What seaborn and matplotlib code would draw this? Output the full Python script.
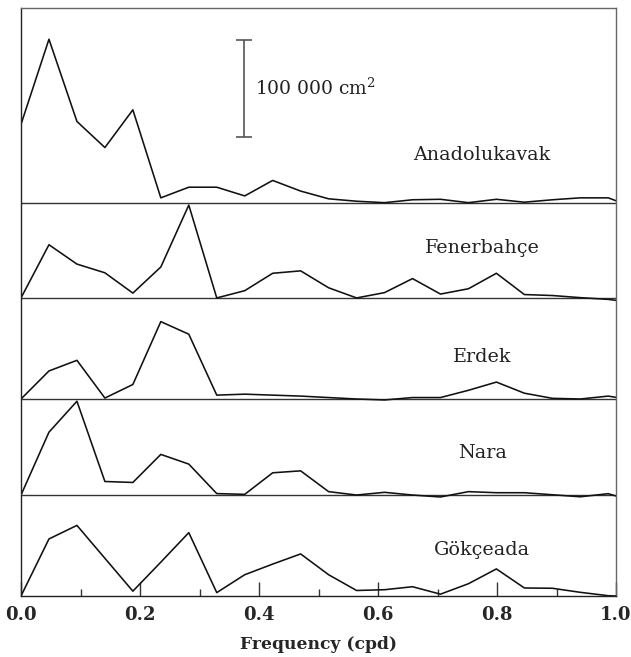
import numpy as np
import pandas as pd
import matplotlib
matplotlib.use("Agg")
import matplotlib.pyplot as plt
import seaborn as sns

# ---- data (spectral amplitude, 10^3 cm^2) ----
freq = [0.000, 0.047, 0.094, 0.141, 0.188, 0.235, 0.282, 0.329, 0.376, 0.423,
        0.470, 0.517, 0.564, 0.611, 0.658, 0.705, 0.752, 0.799, 0.846, 0.893,
        0.940, 0.987, 1.000]
stations = ["Anadolukavak", "Fenerbahçe", "Erdek", "Nara", "Gökçeada"]
anadolukavak = [81, 169, 84, 57, 96, 5, 16, 16, 7, 23, 12, 4, 1.5, 0, 3, 3.5, 0, 3.5, 0.5, 3, 5, 5, 2]
fenerbahce = [0, 55, 35, 26, 5, 32, 96, 0, 7.5, 25.5, 28, 10.5, 0, 5.5, 20, 4, 9.5, 25.5, 3.5, 2.5, 0.3, -1.5, -2.5]
erdek = [0, 29, 40, 1, 15, 80, 67, 4, 5, 4, 3, 1.5, 0, -1, 1.5, 1.5, 9, 17.5, 6, 0.7, 0, 3, 1.7]
nara = [0, 65, 97, 14, 13, 42, 32, 1.5, 0.7, 23, 25, 3.5, 0, 2.8, 0, -2, 3.5, 2.4, 2.4, 0.3, -1.8, 1.4, -1]
gokceada = [0, 59, 73, 39, 5, 35, 65.5, 3.5, 22, 33, 43.5, 22, 5.7, 6.5, 9.6, 1.9, 12.7, 28, 8.3, 8, 3.8, 0.3, 0]
series = [anadolukavak, fenerbahce, erdek, nara, gokceada]
scale_value = 100  # 100 000 cm^2
x_ticks = [0.0, 0.2, 0.4, 0.6, 0.8, 1.0]
x_label = "Frequency (cpd)"

# ---- layout ----
baselines = [406.7, 308.2, 203.7, 104.4, 0.0]
label_y = [456, 360, 247, 148, 47.6]

sns.set_theme(style="white")
plt.rcParams["font.family"] = ["DejaVu Serif"]
plt.rcParams["mathtext.fontset"] = "dejavuserif"

fig = plt.figure(figsize=(6.31, 6.57), dpi=100)
ax = fig.add_axes([21 / 631, 1 - 596 / 657, 595 / 631, 588 / 657])

rows = []
for name, vals, base in zip(stations, series, baselines):
    for f, v in zip(freq, vals):
        rows.append({"station": name, "freq": f, "y": v + base})
df = pd.DataFrame(rows)

for name, base in zip(stations, baselines):
    sub = df[df["station"] == name]
    sns.lineplot(data=sub, x="freq", y="y", ax=ax, color="#111111", lw=1.15,
                 estimator=None, sort=False, legend=False)
    if base > 0:
        ax.axhline(base, color="#333333", lw=1.0, zorder=1)

for name, ly in zip(stations, label_y):
    ax.text(0.775, ly, name, ha="center", va="center", fontsize=13.8, color="#222222")

# scale bar
top = 575
ax.errorbar([0.374], [top - scale_value / 2], yerr=[[scale_value / 2], [scale_value / 2]],
            color="#555555", lw=1.2, capsize=5.5, capthick=1.2)
ax.text(0.393, 525, "100 000 cm$^2$", ha="left", va="center", fontsize=13.5, color="#222222")

ax.set_xlim(0, 1.0)
ax.set_ylim(0, 608)
ax.set_yticks([])
ax.set_xticks(x_ticks)
ax.set_xticklabels([f"{t:.1f}" for t in x_ticks], fontweight="bold", fontsize=13)
ax.set_xticks([0.1, 0.3, 0.5, 0.7, 0.9], minor=True)
ax.tick_params(axis="x", which="major", direction="in", length=10, width=1.0,
               color="#333333", pad=7, bottom=True)
ax.tick_params(axis="x", which="minor", direction="in", length=5, width=1.0,
               color="#333333", bottom=True)
ax.set_xlabel(x_label, fontsize=12.3, fontweight="bold", labelpad=9)
ax.set_ylabel("")
for side in ["top", "right"]:
    ax.spines[side].set_color("#666666")
for side in ["left", "bottom"]:
    ax.spines[side].set_color("#222222")
for s in ax.spines.values():
    s.set_linewidth(1.0)

fig.savefig("out.png", dpi=100)
